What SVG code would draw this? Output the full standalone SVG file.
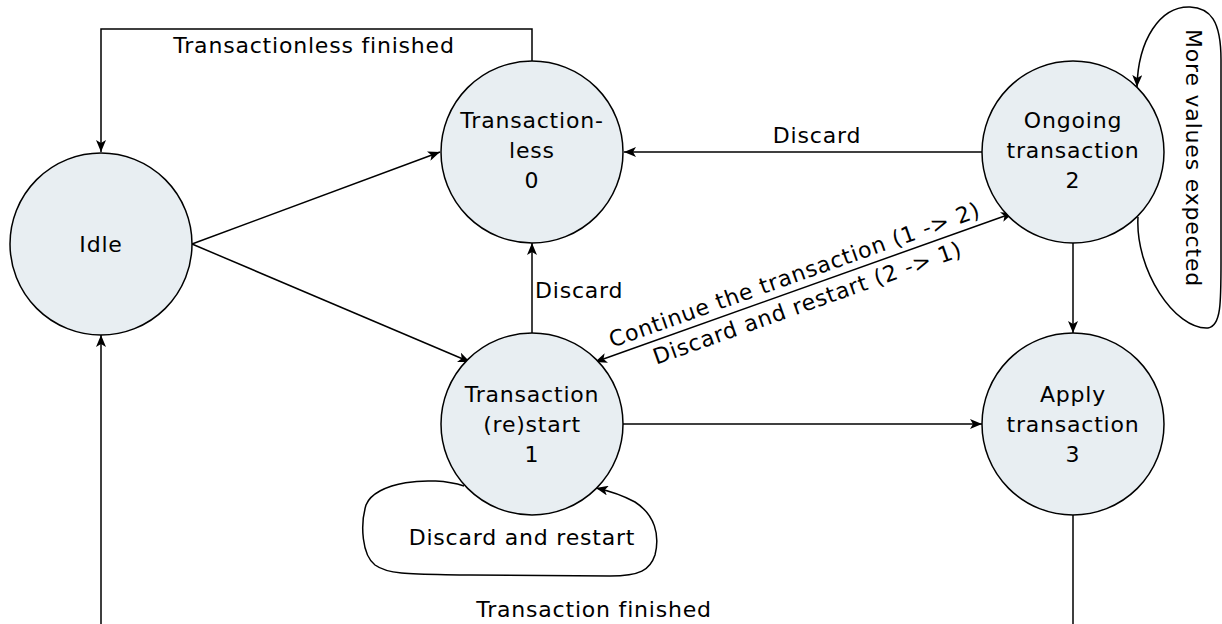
<svg xmlns="http://www.w3.org/2000/svg" width="1222" height="624" viewBox="0 0 1222 624">
<style>
.node{fill:#e8eef2;stroke:#000;stroke-width:1.5}
.edge{fill:none;stroke:#000;stroke-width:1.5}
text{font-family:"DejaVu Sans",sans-serif;font-size:22px;letter-spacing:0.8px;fill:#000}
.c{text-anchor:middle}
</style>
<defs>
<marker id="arr" viewBox="0 0 12 10" refX="12" refY="5" markerWidth="12" markerHeight="10" markerUnits="userSpaceOnUse" orient="auto-start-reverse">
<path d="M0,0 L12,5 L0,10 L3,5 z" fill="#000"/>
</marker>
</defs>
<rect width="1222" height="624" fill="#fff"/>
<g id="connectors">
<path class="edge" d="M532 61 V29 H101 V152" marker-end="url(#arr)"/>
<text class="c" x="314" y="53">Transactionless finished</text>
<path class="edge" d="M192 244 L440 152" marker-end="url(#arr)"/>
<path class="edge" d="M192 244 L470 362" marker-end="url(#arr)"/>
<path class="edge" d="M532 333 V243" marker-end="url(#arr)"/>
<text x="535" y="298">Discard</text>
<path class="edge" d="M982 152 H624" marker-end="url(#arr)"/>
<text class="c" x="817" y="143">Discard</text>
<path class="edge" d="M595 362 L1013 213" marker-start="url(#arr)" marker-end="url(#arr)"/>
<text class="c" transform="translate(797 282) rotate(-19.6)">Continue the transaction (1 -&gt; 2)</text>
<text class="c" transform="translate(810 310) rotate(-19.6)">Discard and restart (2 -&gt; 1)</text>
<path class="edge" d="M1138 217 C1135 270,1175 330,1208 328 C1222 326,1221 300,1221 250 L1221 60 C1221 20,1210 8,1190 7 C1160 6,1138 40,1137 87" marker-end="url(#arr)"/>
<text class="c" transform="translate(1186 158) rotate(90)">More values expected</text>
<path class="edge" d="M464 486 C430 475,375 482,366 505 C360 525,362 555,375 565 C390 576,420 574,470 575 L610 576 C640 576,650 570,655 555 C660 535,655 515,635 502 C620 494,610 491,596 488" marker-end="url(#arr)"/>
<text class="c" x="522" y="545">Discard and restart</text>
<path class="edge" d="M623 424 H982" marker-end="url(#arr)"/>
<path class="edge" d="M1073 243 V333" marker-end="url(#arr)"/>
<path class="edge" d="M1073 515 V640 H101 V335" marker-end="url(#arr)"/>
<text class="c" x="594" y="617">Transaction finished</text>
</g>
<g id="idle">
<circle class="node" cx="101" cy="244" r="91"/>
<text class="c" x="101" y="252">Idle</text>
</g>
<g id="transactionless">
<circle class="node" cx="532" cy="152" r="91"/>
<text class="c" x="532" y="128">Transaction-</text>
<text class="c" x="532" y="158">less</text>
<text class="c" x="532" y="188">0</text>
</g>
<g id="ongoing">
<circle class="node" cx="1073" cy="152" r="91"/>
<text class="c" x="1073" y="128">Ongoing</text>
<text class="c" x="1073" y="158">transaction</text>
<text class="c" x="1073" y="188">2</text>
</g>
<g id="restart">
<circle class="node" cx="532" cy="424" r="91"/>
<text class="c" x="532" y="402">Transaction</text>
<text class="c" x="532" y="432">(re)start</text>
<text class="c" x="532" y="462">1</text>
</g>
<g id="apply">
<circle class="node" cx="1073" cy="424" r="91"/>
<text class="c" x="1073" y="402">Apply</text>
<text class="c" x="1073" y="432">transaction</text>
<text class="c" x="1073" y="462">3</text>
</g>
</svg>
